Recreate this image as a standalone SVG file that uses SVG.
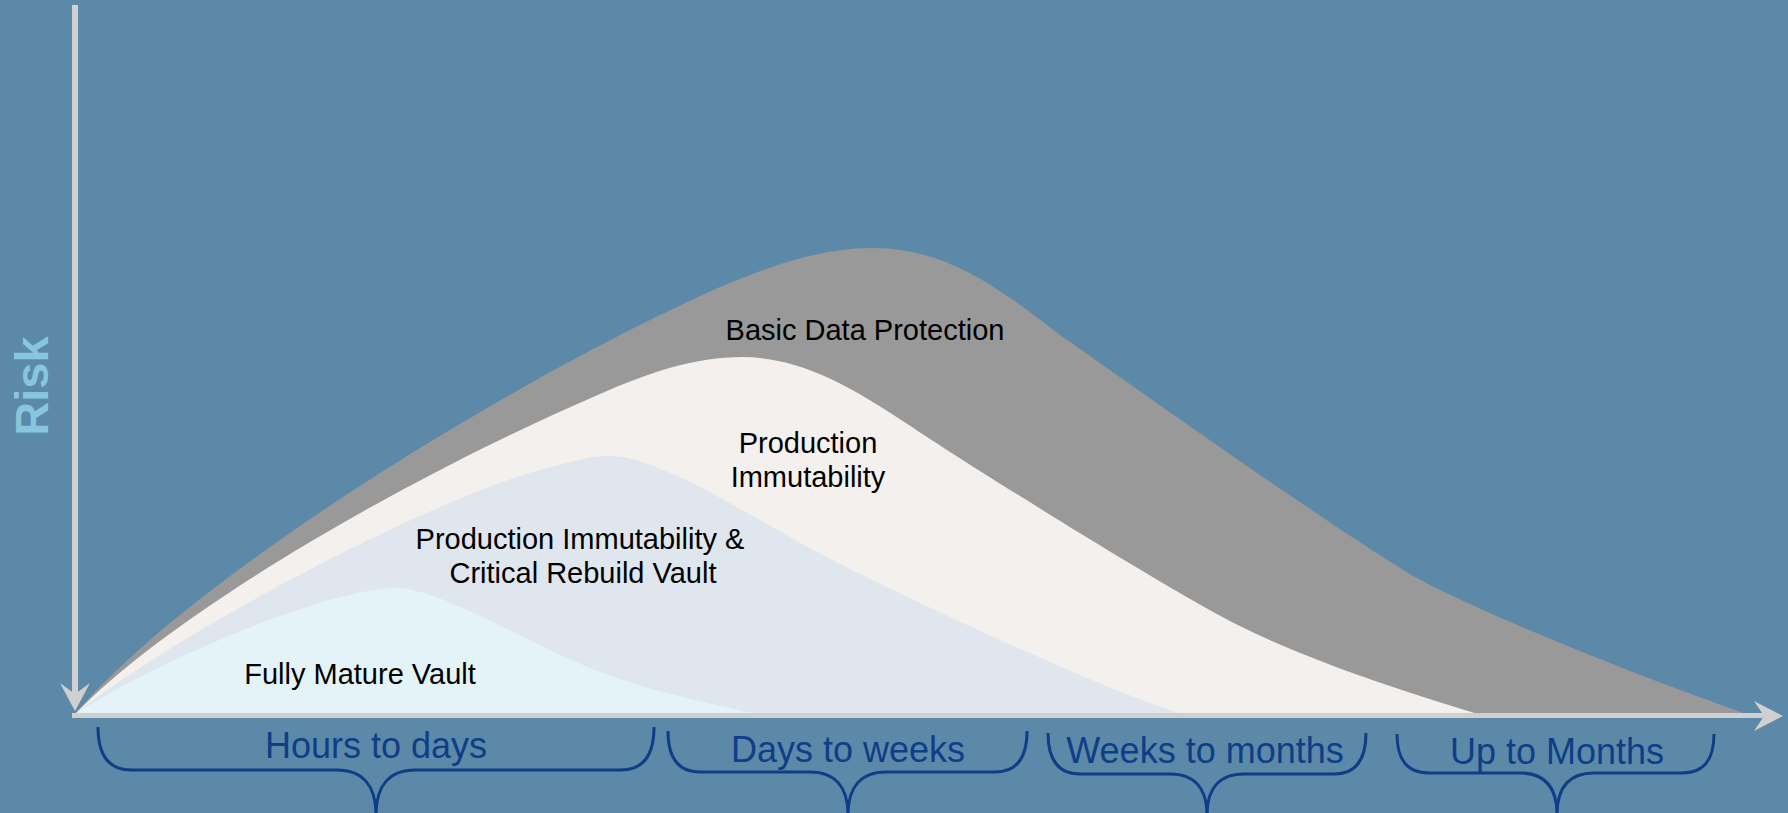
<svg xmlns="http://www.w3.org/2000/svg" width="1788" height="813" viewBox="0 0 1788 813">
<style>
.lbl{font-family:"Liberation Sans",Arial,sans-serif;font-size:29px;fill:#000;text-anchor:middle}
.tl{font-family:"Liberation Sans",Arial,sans-serif;font-size:36px;fill:#0E3E87;text-anchor:middle}
.br{fill:none;stroke:#0E3E87;stroke-width:3}
.ax{fill:#D0D0D0}
</style>
<rect width="1788" height="813" fill="#5C89A8"/>
<g id="basic-data-protection">
<path d="M75 714 C180 590 450 420 640 325 C720 285 800 248 872 248 C940 248 990 280 1060 335 C1125 380 1320 520 1415 577 C1470 607 1600 662 1746 714 Z" fill="#999999"/>
</g>
<g id="production-immutability">
<path d="M75 714 C170 615 400 480 600 394 C650 372 695 357 742 357 C792 357 840 378 912 427 C950 453 1120 560 1215 613 C1290 655 1400 690 1478 714 Z" fill="#F3F0ED"/>
</g>
<g id="critical-rebuild-vault">
<path d="M75 714 C180 630 430 500 540 470 C570 462 590 456 610 456 C645 456 700 485 795 540 C850 572 1100 690 1182 714 Z" fill="#DFE6ED"/>
</g>
<g id="fully-mature-vault">
<path d="M75 714 C150 665 320 590 395 588 C440 588 520 640 595 670 C640 688 700 702 758 714 Z" fill="#E3F3F8"/>
</g>
<g id="labels">
<text class="lbl" x="865" y="340">Basic Data Protection</text>
<text class="lbl" x="808" y="453">Production</text>
<text class="lbl" x="808" y="487">Immutability</text>
<text class="lbl" x="580" y="549">Production Immutability &amp;</text>
<text class="lbl" x="583" y="583">Critical Rebuild Vault</text>
<text class="lbl" x="360" y="684">Fully Mature Vault</text>
</g>
<g id="axes">
<rect class="ax" x="72" y="5" width="6" height="690"/>
<polygon class="ax" points="75,711 60,683 75,694 90,683"/>
<rect class="ax" x="72" y="713" width="1692" height="5"/>
<polygon class="ax" points="1783,716 1754,701 1764,716 1754,731"/>
<text x="0" y="0" transform="translate(48,386) rotate(-90)" style="font-family:'Liberation Sans',Arial,sans-serif;font-size:47px;font-weight:bold;fill:#88C6DD;text-anchor:middle">Risk</text>
</g>
<g id="connectors">
<path class="br" d="M98 727 C98 755 108 770 131 770 L337 770 C362 770 376 785 376 815 M376 815 C376 785 390 770 415 770 L621 770 C644 770 654 755 654 727"/>
<path class="br" d="M668 731 C668 758 678 772 700 772 L810 772 C835 772 848 787 848 815 M848 815 C848 787 861 772 886 772 L995 772 C1017 772 1027 758 1027 731"/>
<path class="br" d="M1048 733 C1048 760 1058 774 1080 774 L1170 774 C1195 774 1207 789 1207 815 M1207 815 C1207 789 1219 774 1244 774 L1334 774 C1356 774 1366 760 1366 733"/>
<path class="br" d="M1397 734 C1397 760 1407 773 1429 773 L1520 773 C1545 773 1557 788 1557 815 M1557 815 C1557 788 1569 773 1594 773 L1682 773 C1704 773 1714 760 1714 734"/>
</g>
<g id="time-labels">
<text class="tl" x="376" y="758">Hours to days</text>
<text class="tl" x="848" y="762">Days to weeks</text>
<text class="tl" x="1205" y="763">Weeks to months</text>
<text class="tl" x="1557" y="764">Up to Months</text>
</g>
</svg>
